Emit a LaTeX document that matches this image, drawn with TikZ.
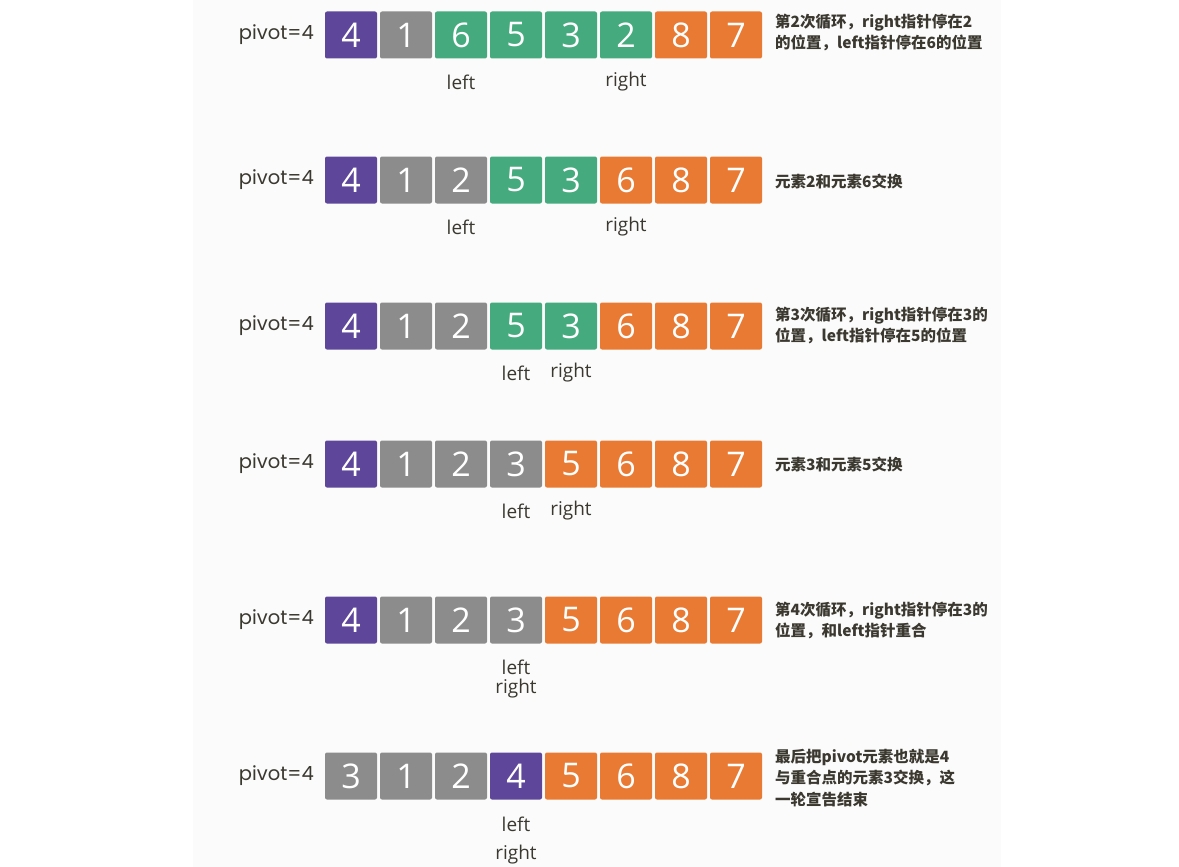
\documentclass[tikz,border=0pt]{standalone}
\usepackage{fontspec}
\setmainfont{Open Sans}
\newfontfamily\cjk{Noto Sans CJK SC}
\newfontfamily\pop{Poppins}
\definecolor{pur}{HTML}{5E479A}
\definecolor{gry}{HTML}{8C8C8C}
\definecolor{grn}{HTML}{45AA7E}
\definecolor{org}{HTML}{E97A33}
\definecolor{ink}{HTML}{3A382F}
\definecolor{panel}{HTML}{FBFBFB}
\tikzset{
  cell/.style={minimum width=52pt, minimum height=47pt, rounded corners=2pt, inner sep=0pt,
    text=white, font=\fontsize{34}{34}\selectfont},
  pivlbl/.style={anchor=east, text=ink, font=\pop\fontsize{19.5}{19.5}\selectfont, inner sep=0pt},
  ptr/.style={text=ink, font=\fontsize{19}{19}\selectfont, inner sep=0pt},
  desc/.style={anchor=west, text=ink, align=left, inner sep=0pt,
    font=\cjk\bfseries\fontsize{15.5}{21.5}\selectfont},
}
\begin{document}
\begin{tikzpicture}[x=1pt,y=-1pt]
\useasboundingbox (0,0) rectangle (1179,867);
\fill[panel] (193,0) rectangle (1001,867);
\foreach \r/\y/\cells in {
  1/35/{4/pur,1/gry,6/grn,5/grn,3/grn,2/grn,8/org,7/org},
  2/180/{4/pur,1/gry,2/gry,5/grn,3/grn,6/org,8/org,7/org},
  3/326/{4/pur,1/gry,2/gry,5/grn,3/grn,6/org,8/org,7/org},
  4/464/{4/pur,1/gry,2/gry,3/gry,5/org,6/org,8/org,7/org},
  5/620/{4/pur,1/gry,2/gry,3/gry,5/org,6/org,8/org,7/org},
  6/776/{3/gry,1/gry,2/gry,4/pur,5/org,6/org,8/org,7/org}} {
  \node[pivlbl] (p\r) at (314,\y) {pivot=4};
  \foreach \d/\c [count=\i] in \cells {
    \node[cell, fill=\c] (r\r c\i) at ({351+55*(\i-1)},\y) {\d};
  }
}
% pointer labels
\node[ptr] (l1) at (r1c3.south |- 0,82) {left};
\node[ptr] (g1) at (r1c6.south |- 0,82) {right};
\node[ptr] (l2) at (r2c3.south |- 0,227) {left};
\node[ptr] (g2) at (r2c6.south |- 0,227) {right};
\node[ptr] (l3) at (r3c4.south |- 0,373) {left};
\node[ptr] (g3) at (r3c5.south |- 0,373) {right};
\node[ptr] (l4) at (r4c4.south |- 0,511) {left};
\node[ptr] (g4) at (r4c5.south |- 0,511) {right};
\node[ptr] (l5) at (r5c4.south |- 0,667) {left};
\node[ptr] (g5) at (r5c4.south |- 0,689) {right};
\node[ptr] (l6) at (r6c4.south |- 0,824) {left};
\node[ptr] (g6) at (r6c4.south |- 0,855) {right};
% descriptions
\node[desc] (d1) at (775,32.5) {第2次循环，right指针停在2\\的位置，left指针停在6的位置};
\node[desc] (d2) at (775,182) {元素2和元素6交换};
\node[desc] (d3) at (775,325.5) {第3次循环，right指针停在3的\\位置，left指针停在5的位置};
\node[desc] (d4) at (775,465) {元素3和元素5交换};
\node[desc] (d5) at (775,620.5) {第4次循环，right指针停在3的\\位置，和left指针重合};
\node[desc] (d6) at (775,778) {最后把pivot元素也就是4\\与重合点的元素3交换，这\\一轮宣告结束};
\end{tikzpicture}
\end{document}
